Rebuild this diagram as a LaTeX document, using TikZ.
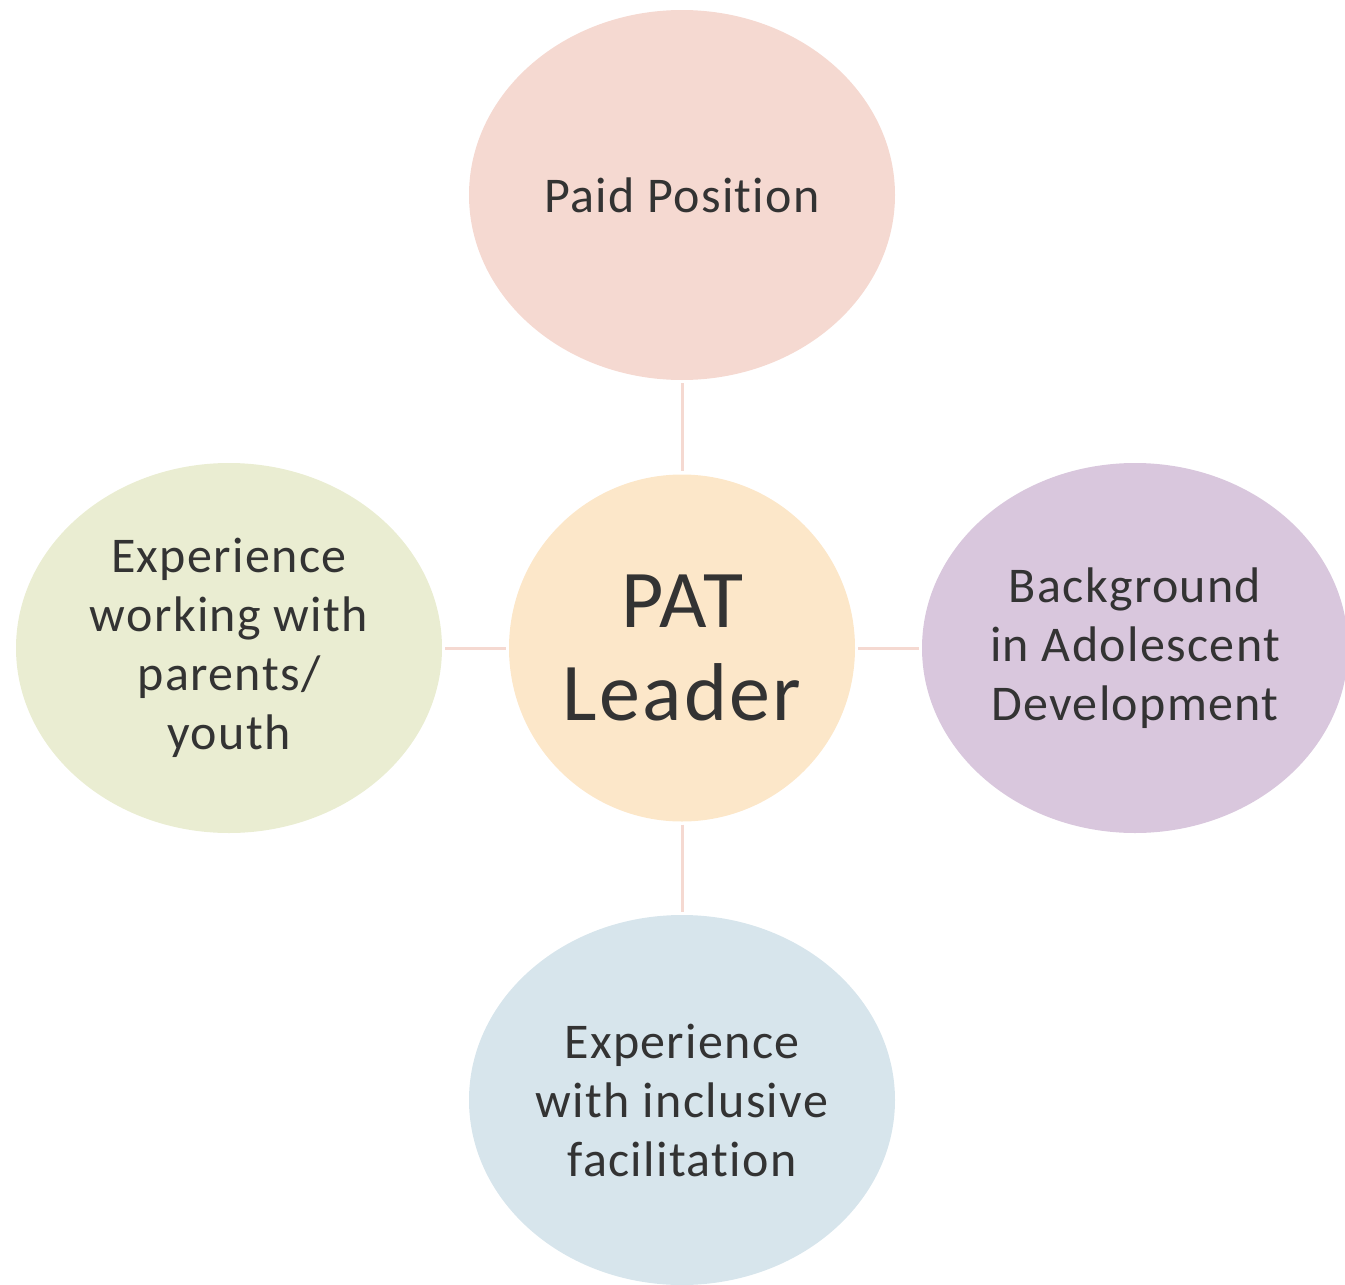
\documentclass[tikz,border=0pt]{standalone}
\usepackage{fontspec}
\setmainfont{Carlito}[LetterSpace=2.7,Ligatures=NoCommon]
\usetikzlibrary{shapes.geometric}
\definecolor{cpink}{HTML}{F5D9D1}
\definecolor{ccenter}{HTML}{FCE7C9}
\definecolor{cgreen}{HTML}{EAEDD2}
\definecolor{cpurple}{HTML}{D9C7DD}
\definecolor{cblue}{HTML}{D7E5EC}
\definecolor{ctext}{HTML}{333333}
\begin{document}
\begin{tikzpicture}[x=1pt,y=-1pt,
  outer/.style={ellipse,inner sep=0pt,minimum width=426pt,minimum height=370pt,
    text=ctext,align=center,font=\fontsize{50}{59}\selectfont},
  hub/.style={ellipse,inner sep=0pt,minimum width=346pt,minimum height=347pt,
    fill=ccenter,text=ctext,align=center,font=\fontsize{82}{93}\selectfont},
  link/.style={draw=cpink,line width=3pt}]
\useasboundingbox (0,0) rectangle (1345,1285);
\node[hub] (c) at (682,648) {PAT\\Leader};
\node[outer,fill=cpink] (t) at (682,195) {Paid Position};
\node[outer,fill=cgreen] (l) at (229,648) {Experience\\working with\\parents/\\youth};
\node[outer,fill=cpurple] (r) at (1135,648) {Background\\in Adolescent\\Development};
\node[outer,fill=cblue] (b) at (682,1100) {Experience\\with inclusive\\facilitation};
\draw[link] ([yshift=-3pt]t.south) -- ([yshift=3pt]c.north);
\draw[link] ([xshift=3pt]l.east) -- ([xshift=-3pt]c.west);
\draw[link] ([xshift=3pt]c.east) -- ([xshift=-3pt]r.west);
\draw[link] ([yshift=-3pt]c.south) -- ([yshift=3pt]b.north);
\end{tikzpicture}
\end{document}
